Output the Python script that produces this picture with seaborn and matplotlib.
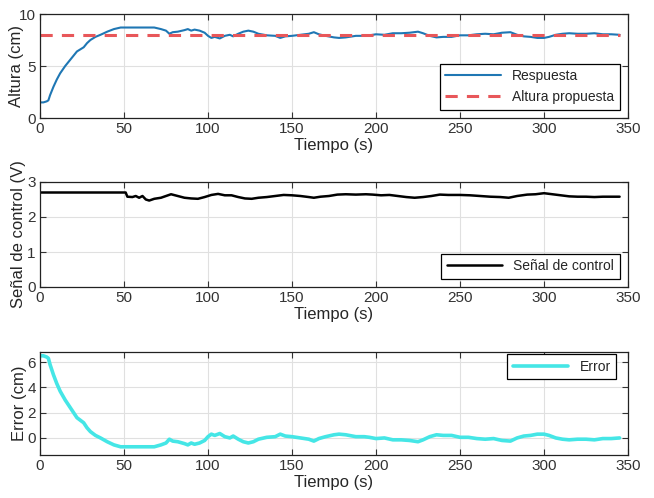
import numpy as np
import pandas as pd
import seaborn as sns
import matplotlib.pyplot as plt

# readings
tiempo = [0, 2, 4, 5, 6, 8, 10, 12, 15, 18, 20, 22, 24, 26, 28, 30, 33, 36, 40, 44,
          48, 55, 62, 68, 72, 75, 77, 79, 82, 86, 88, 90, 92, 95, 98, 100, 102, 104, 107, 110,
          113, 115, 118, 121, 124, 127, 130, 135, 140, 143, 146, 150, 155, 160, 163, 166, 170, 175, 178, 182,
          188, 193, 196, 200, 205, 210, 215, 220, 225, 228, 232, 236, 240, 245, 250, 255, 260, 265, 270, 275,
          280, 284, 288, 292, 296, 300, 303, 307, 311, 315, 320, 325, 330, 335, 340, 345]

error = [6.5, 6.5, 6.4, 6.3, 5.8, 5.0, 4.3, 3.7, 3.0, 2.4, 2.0, 1.6, 1.4, 1.2, 0.8, 0.5, 0.2, 0.0, -0.3, -0.55,
         -0.7, -0.7, -0.7, -0.7, -0.55, -0.4, -0.1, -0.25, -0.3, -0.45, -0.55, -0.4, -0.5, -0.4, -0.2, 0.1, 0.3, 0.2, 0.35, 0.1,
         0.0, 0.15, -0.1, -0.3, -0.4, -0.3, -0.1, 0.05, 0.1, 0.3, 0.15, 0.1, 0.0, -0.1, -0.25, -0.05, 0.1, 0.25, 0.3, 0.25,
         0.1, 0.1, 0.05, -0.05, 0.0, -0.15, -0.15, -0.2, -0.3, -0.15, 0.1, 0.25, 0.2, 0.2, 0.05, 0.05, -0.05, -0.1, -0.05, -0.2,
         -0.25, 0.0, 0.15, 0.2, 0.3, 0.3, 0.2, 0.0, -0.1, -0.15, -0.1, -0.1, -0.15, -0.05, -0.05, 0.0]

altura = [1.5, 1.5, 1.6, 1.7, 2.2, 3.0, 3.7, 4.3, 5.0, 5.6, 6.0, 6.4, 6.6, 6.8, 7.2, 7.5, 7.8, 8.0, 8.3, 8.55,
          8.7, 8.7, 8.7, 8.7, 8.55, 8.4, 8.1, 8.25, 8.3, 8.45, 8.55, 8.4, 8.5, 8.4, 8.2, 7.9, 7.7, 7.8, 7.65, 7.9,
          8.0, 7.85, 8.1, 8.3, 8.4, 8.3, 8.1, 7.95, 7.9, 7.7, 7.85, 7.9, 8.0, 8.1, 8.25, 8.05, 7.9, 7.75, 7.7, 7.75,
          7.9, 7.9, 7.95, 8.05, 8.0, 8.15, 8.15, 8.2, 8.3, 8.15, 7.9, 7.75, 7.8, 7.8, 7.95, 7.95, 8.05, 8.1, 8.05, 8.2,
          8.25, 8.0, 7.85, 7.8, 7.7, 7.7, 7.8, 8.0, 8.1, 8.15, 8.1, 8.1, 8.15, 8.05, 8.05, 8.0]

tiempo_ref = [0, 345]
altura_ref = [8, 8]

tiempo_u = [0, 51, 52, 55, 57, 59, 61, 63, 65, 68, 72, 75, 78, 82, 86, 90, 94, 98, 102, 106,
            110, 114, 118, 122, 126, 130, 135, 140, 145, 150, 155, 160, 163, 167, 172, 177, 182, 188, 194, 198,
            203, 208, 213, 218, 223, 228, 233, 238, 243, 250, 256, 262, 268, 274, 279, 284, 290, 295, 300, 305,
            310, 315, 320, 325, 330, 335, 340, 345]
control = [2.7, 2.7, 2.58, 2.57, 2.6, 2.55, 2.6, 2.5, 2.47, 2.52, 2.55, 2.6, 2.65, 2.6, 2.55, 2.53, 2.52, 2.57, 2.63, 2.66,
           2.62, 2.62, 2.57, 2.53, 2.52, 2.55, 2.57, 2.6, 2.63, 2.62, 2.6, 2.57, 2.55, 2.58, 2.6, 2.64, 2.65, 2.64, 2.65, 2.64,
           2.62, 2.63, 2.6, 2.57, 2.55, 2.57, 2.6, 2.64, 2.63, 2.63, 2.62, 2.6, 2.58, 2.57, 2.55, 2.6, 2.64, 2.65, 2.68, 2.65,
           2.62, 2.59, 2.58, 2.58, 2.57, 2.58, 2.58, 2.58]

sns.set_style("ticks")
plt.rcParams['font.family'] = ['Liberation Sans', 'DejaVu Sans']
plt.rcParams['font.size'] = 11

fig = plt.figure(figsize=(6.54, 4.98), dpi=100)
W, H = 654, 498
LEFT, RIGHT = 40, 628

def make_ax(top, bottom):
    return fig.add_axes([LEFT / W, 1 - bottom / H, (RIGHT - LEFT) / W, (bottom - top) / H])

ax1 = make_ax(14, 118)
ax2 = make_ax(182, 287)
ax3 = make_ax(352, 455)

sns.lineplot(x=tiempo, y=altura, ax=ax1, color='#1f77b4', lw=1.5, label='Respuesta')
sns.lineplot(x=tiempo_ref, y=altura_ref, ax=ax1, color='#e8575a', lw=2.2, linestyle=(0, (4, 3)),
             label='Altura propuesta')
sns.lineplot(x=tiempo_u, y=control, ax=ax2, color='black', lw=1.8, label='Señal de control')
sns.lineplot(x=tiempo, y=error, ax=ax3, color='#45e6e6', lw=2.6, label='Error')

ax1.set_ylim(0, 10)
ax1.set_yticks([0, 5, 10])
ax1.set_ylabel('Altura (cm)')
ax2.set_ylim(0, 3)
ax2.set_yticks([0, 1, 2, 3])
ax2.set_ylabel('Señal de control (V)')
ax3.set_ylim(-1.35, 6.8)
ax3.set_yticks([0, 2, 4, 6])
ax3.set_ylabel('Error (cm)')

# right edge of each y label, in pixels
label_x = {ax1: 24, ax2: 26, ax3: 27}
for ax in (ax1, ax2, ax3):
    ax.set_xlim(0, 350)
    ax.set_xticks(range(0, 351, 50))
    ax.set_xlabel('Tiempo (s)', fontsize=12, labelpad=1)
    ax.yaxis.label.set_size(12)
    ax.yaxis.set_label_coords((label_x[ax] - LEFT) / (RIGHT - LEFT), 0.5)
    ax.grid(True, color='#e0e0e0', lw=0.8)
    ax.tick_params(direction='in', top=True, right=True, length=4, labelsize=11, colors='#333333',
                   pad=3)
    for s in ax.spines.values():
        s.set_color('#222222')
        s.set_linewidth(0.9)

leg_args = dict(fontsize=10, fancybox=False, framealpha=1, edgecolor='black', handlelength=4)
legs = [ax1.legend(loc='lower right', borderaxespad=0.6, **leg_args),
        ax2.legend(loc='lower right', borderaxespad=0.6, **leg_args),
        ax3.legend(loc='upper right', bbox_to_anchor=(0.98, 0.98), borderaxespad=0, **leg_args)]
for leg in legs:
    leg.get_frame().set_linewidth(0.9)

fig.savefig('out.png', dpi=100)
